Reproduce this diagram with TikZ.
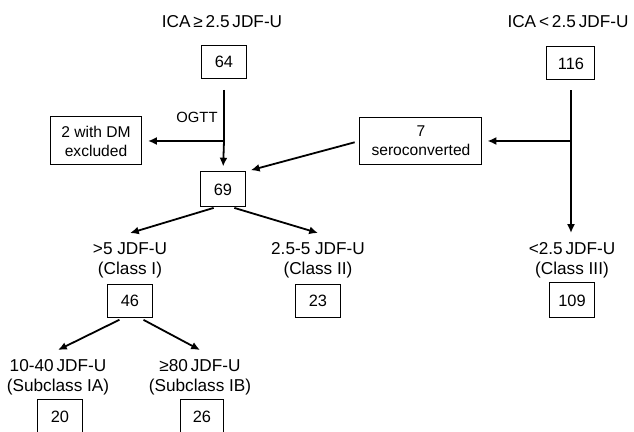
\documentclass[tikz,border=0pt]{standalone}
\usepackage{fontspec}
\setmainfont{Liberation Sans}
\usetikzlibrary{arrows.meta}

\begin{document}
\begin{tikzpicture}[x=0.5pt, y=-0.5pt, >={Latex[length=4.4pt,width=4pt]},
  font=\fontsize{8.6}{10}\selectfont,
  numbox/.style={draw, line width=0.5pt, inner sep=1pt, minimum width=22.5pt, minimum height=16.5pt,
    font=\fontsize{8.2}{10}\selectfont},
  txtbox/.style={draw, line width=0.5pt, align=center, inner sep=1pt, font=\fontsize{7.8}{9.5}\selectfont},
  lbl/.style={align=center, inner xsep=1pt, inner ysep=4.4pt},
  arr/.style={->, line width=0.9pt}]
  \clip (0,0) rectangle (634,432);
  % group headings
  \node (hiica) at (222,22) {ICA\,≥\,2.5\,JDF-U};
  \node (loica) at (568,22) {ICA\,<\,2.5\,JDF-U};
  % starting groups and side boxes
  \node[numbox] (n64) at (224,62) {64};
  \node[numbox, minimum width=24pt] (n116) at (571,63.5) {116};
  \node[txtbox, minimum width=45.5pt, minimum height=24pt] (dm) at (96,141) {2 with DM\\excluded};
  \node[txtbox, minimum width=61pt, minimum height=23.5pt] (sero) at (421,141) {7\\seroconverted};
  \node[numbox, minimum height=17.5pt] (n69) at (223,189.5) {69};
  \node[font=\fontsize{7.4}{9}\selectfont] (ogtt) at (197,117) {OGTT};
  % classes
  \node[lbl] (cl1) at (130,260) {>5 JDF-U\\(Class I)};
  \node[lbl] (cl2) at (318,260) {2.5-5 JDF-U\\(Class II)};
  \node[lbl] (cl3) at (572,260) {<2.5\,JDF-U\\(Class III)};
  \node[numbox] (n46) at (130,301) {46};
  \node[numbox] (n23) at (318,301) {23};
  \node[numbox, minimum height=17.5pt] (n109) at (572,300.5) {109};
  % subclasses
  \node[lbl] (sc1) at (58,377) {10-40\,JDF-U\\(Subclass IA)};
  \node[lbl] (sc2) at (200,377) {≥80\,JDF-U\\(Subclass IB)};
  \node[numbox] (n20) at (60,416.5) {20};
  \node[numbox, minimum width=21.5pt] (n26) at (202,416.5) {26};
  % left stem with OGTT exclusion
  \coordinate (split64) at (n64.south |- dm.east);
  \draw[line width=0.9pt, shorten <=5.5pt] (n64.south) -- (split64);
  \draw[arr, shorten >=2.5pt] (split64) -- (n69.north);
  \draw[arr, shorten >=3pt] (split64) -- (dm.east);
  % right stem with seroconversion
  \coordinate (split116) at (n116.south |- sero.east);
  \draw[arr, shorten <=5pt] (n116.south) -- (n116.south |- cl3.north);
  \draw[arr, shorten >=2.5pt] (split116) -- (sero.east);
  \draw[arr, shorten <=2.5pt, shorten >=2.5pt] (sero.west) -- (n69.north east);
  % splits into classes
  \draw[arr, shorten <=0.7pt] ([xshift=-4pt]n69.south) -- (cl1.north);
  \draw[arr, shorten <=0.7pt] ([xshift=5pt]n69.south) -- (cl2.north);
  \draw[arr, shorten <=2pt] ([xshift=-3.5pt]n46.south) -- (sc1.north);
  \draw[arr, shorten <=2pt] ([xshift=5pt]n46.south) -- (sc2.north);
\end{tikzpicture}
\end{document}
